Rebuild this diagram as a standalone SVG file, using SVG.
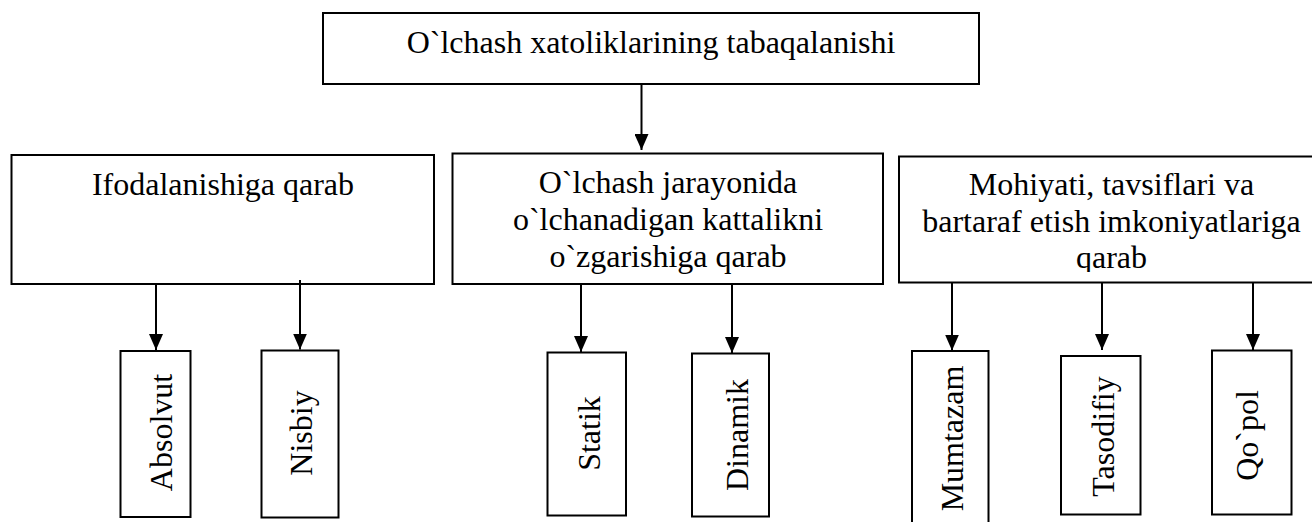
<svg xmlns="http://www.w3.org/2000/svg" width="1312" height="522" viewBox="0 0 1312 522">
<style>
.box{fill:#fff;stroke:#000;stroke-width:2}
.t{font-family:"Liberation Serif","Times New Roman",serif;font-size:32px;fill:#000}
.c{text-anchor:middle}
.conn line{stroke:#000;stroke-width:2;marker-end:url(#ah)}
</style>
<defs>
<marker id="ah" markerUnits="userSpaceOnUse" markerWidth="16" markerHeight="14" refX="16" refY="7" orient="auto">
<path d="M0,0 L16,7 L0,14 Z" fill="#000"/>
</marker>
<clipPath id="clipR"><rect x="899" y="156" width="420" height="116"/></clipPath>
</defs>
<rect width="1312" height="522" fill="#fff"/>
<g id="root">
<rect class="box" x="323" y="13" width="656" height="71"/>
<text class="t c" x="651" y="52.5">O`lchash xatoliklarining tabaqalanishi</text>
</g>
<g id="ifoda">
<rect class="box" x="11.5" y="155" width="422.5" height="129"/>
<text class="t c" x="223" y="195">Ifodalanishiga qarab</text>
</g>
<g id="jarayon">
<rect class="box" x="452.5" y="153.5" width="430.5" height="130.5"/>
<text class="t c" x="668" y="193">O`lchash jarayonida</text>
<text class="t c" x="668" y="230">o`lchanadigan kattalikni</text>
<text class="t c" x="668" y="267">o`zgarishiga qarab</text>
</g>
<g id="mohiyat">
<rect class="box" x="899" y="156.5" width="425" height="126"/>
<g clip-path="url(#clipR)">
<text class="t c" x="1111.5" y="195">Mohiyati, tavsiflari va</text>
<text class="t c" x="1111.5" y="231.5">bartaraf etish imkoniyatlariga</text>
<text class="t c" x="1111.5" y="268">qarab</text>
</g>
</g>
<g id="absolvut">
<rect class="box" x="120.5" y="351" width="70" height="166"/>
<text class="t c" transform="translate(171.5,432.5) rotate(-90)">Absolvut</text>
</g>
<g id="nisbiy">
<rect class="box" x="261.5" y="350.5" width="77" height="167"/>
<text class="t c" transform="translate(311.5,433) rotate(-90)">Nisbiy</text>
</g>
<g id="statik">
<rect class="box" x="547.5" y="352.5" width="78.5" height="163"/>
<text class="t c" transform="translate(599.5,433.5) rotate(-90)">Statik</text>
</g>
<g id="dinamik">
<rect class="box" x="692" y="353.5" width="77" height="163"/>
<text class="t c" transform="translate(748,435) rotate(-90)">Dinamik</text>
</g>
<g id="mumtazam">
<rect class="box" x="912" y="351" width="76.5" height="180"/>
<text class="t c" transform="translate(962.5,438.5) rotate(-90)">Mumtazam</text>
</g>
<g id="tasodifiy">
<rect class="box" x="1061" y="356" width="79.5" height="158.5"/>
<text class="t c" transform="translate(1114,436.5) rotate(-90)">Tasodifiy</text>
</g>
<g id="qopol">
<rect class="box" x="1212" y="350.5" width="79.5" height="164"/>
<text class="t c" transform="translate(1258,435.5) rotate(-90)">Qo`pol</text>
</g>
<g id="connectors" class="conn">
<line x1="641.5" y1="84" x2="641.5" y2="150"/>
<line x1="156" y1="283" x2="156" y2="350"/>
<line x1="300" y1="280" x2="300" y2="349.5"/>
<line x1="581" y1="284" x2="581" y2="352"/>
<line x1="732" y1="284" x2="732" y2="353"/>
<line x1="952" y1="283" x2="952" y2="350.5"/>
<line x1="1102" y1="283" x2="1102" y2="350"/>
<line x1="1253" y1="283" x2="1253" y2="350"/>
</g>
</svg>
